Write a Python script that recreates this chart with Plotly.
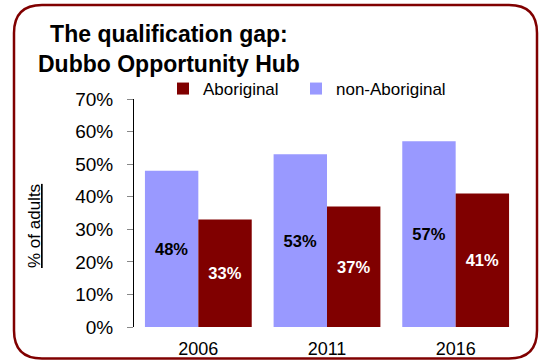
import plotly.graph_objects as go

# Census years and share of adults holding a qualification
years = ["2006", "2011", "2016"]
non_aboriginal = [0.48, 0.53, 0.57]
aboriginal = [0.33, 0.37, 0.41]
y_ticks = [0, 0.1, 0.2, 0.3, 0.4, 0.5, 0.6, 0.7]
y_tick_text = ["0%", "10%", "20%", "30%", "40%", "50%", "60%", "70%"]

W, H = 542, 361
M_L, M_R, M_T, M_B = 134, 22, 99, 34
PW, PH = W - M_L - M_R, H - M_T - M_B


def px_x(px):
    return (px - M_L) / PW


def px_y(py):
    return (H - M_B - py) / PH


FONT = "Liberation Sans, Arial, sans-serif"
RED = "#800000"
LILAC = "#9999FF"

fig = go.Figure()
fig.add_trace(go.Bar(
    name="non-Aboriginal", x=years, y=non_aboriginal, marker_color=LILAC,
    marker_line_width=0, legend="legend2",
    text=[f"{v * 100:.0f}%" for v in non_aboriginal], textposition="inside",
    insidetextanchor="middle",
    textfont=dict(family=FONT, size=16.5, color="black", weight="bold"),
))
fig.add_trace(go.Bar(
    name="Aboriginal", x=years, y=aboriginal, marker_color=RED,
    marker_line_width=0, legend="legend",
    text=[f"{v * 100:.0f}%" for v in aboriginal], textposition="inside",
    insidetextanchor="middle",
    textfont=dict(family=FONT, size=16.5, color="white", weight="bold"),
))

# Rounded frame around the whole chart
x0, x1, y0, y1, r = px_x(14), px_x(537), px_y(5), px_y(358.5), 28
rx, ry = r / PW, r / PH
frame = (
    f"M {x0 + rx},{y0} L {x1 - rx},{y0} Q {x1},{y0} {x1},{y0 - ry} "
    f"L {x1},{y1 + ry} Q {x1},{y1} {x1 - rx},{y1} "
    f"L {x0 + rx},{y1} Q {x0},{y1} {x0},{y1 + ry} "
    f"L {x0},{y0 - ry} Q {x0},{y0} {x0 + rx},{y0} Z"
)

legend_style = dict(
    orientation="h", xanchor="left", yanchor="middle",
    font=dict(size=17, family=FONT), bgcolor="rgba(0,0,0,0)",
)

fig.update_layout(
    width=W, height=H,
    margin=dict(l=M_L, r=M_R, t=M_T, b=M_B),
    paper_bgcolor="white", plot_bgcolor="white",
    barmode="group", bargap=0.17, bargroupgap=0,
    font=dict(family=FONT, color="black"),
    showlegend=True,
    legend=dict(x=px_x(163), y=px_y(89), **legend_style),
    legend2=dict(x=px_x(296), y=px_y(89), **legend_style),
    xaxis=dict(
        showline=False, ticks="", showgrid=False, automargin=False,
        ticklabelstandoff=9,
        tickfont=dict(size=18, family=FONT),
    ),
    yaxis=dict(
        range=[0, 0.70], tickvals=y_ticks, ticktext=y_tick_text,
        showgrid=False, zeroline=False, automargin=False,
        showline=True, linecolor="black", linewidth=1,
        ticks="outside", ticklen=6, tickcolor="#888888", tickwidth=1,
        ticklabelstandoff=10,
        tickfont=dict(size=19, family=FONT),
    ),
    shapes=[dict(type="path", xref="paper", yref="paper", path=frame,
                 line=dict(color=RED, width=2.5), layer="above")],
    annotations=[
        dict(text="<b>The qualification gap:<br>Dubbo Opportunity Hub</b>",
             xref="paper", yref="paper", x=px_x(169), y=px_y(19),
             xanchor="center", yanchor="top", showarrow=False,
             font=dict(size=23, family=FONT, color="black")),
        dict(text="<u>% of adults</u>", textangle=-90,
             xref="paper", yref="paper", x=px_x(34), y=px_y(226),
             xanchor="center", yanchor="middle", showarrow=False,
             font=dict(size=17, family=FONT, color="black")),
    ],
)

fig.write_html("out.html")
